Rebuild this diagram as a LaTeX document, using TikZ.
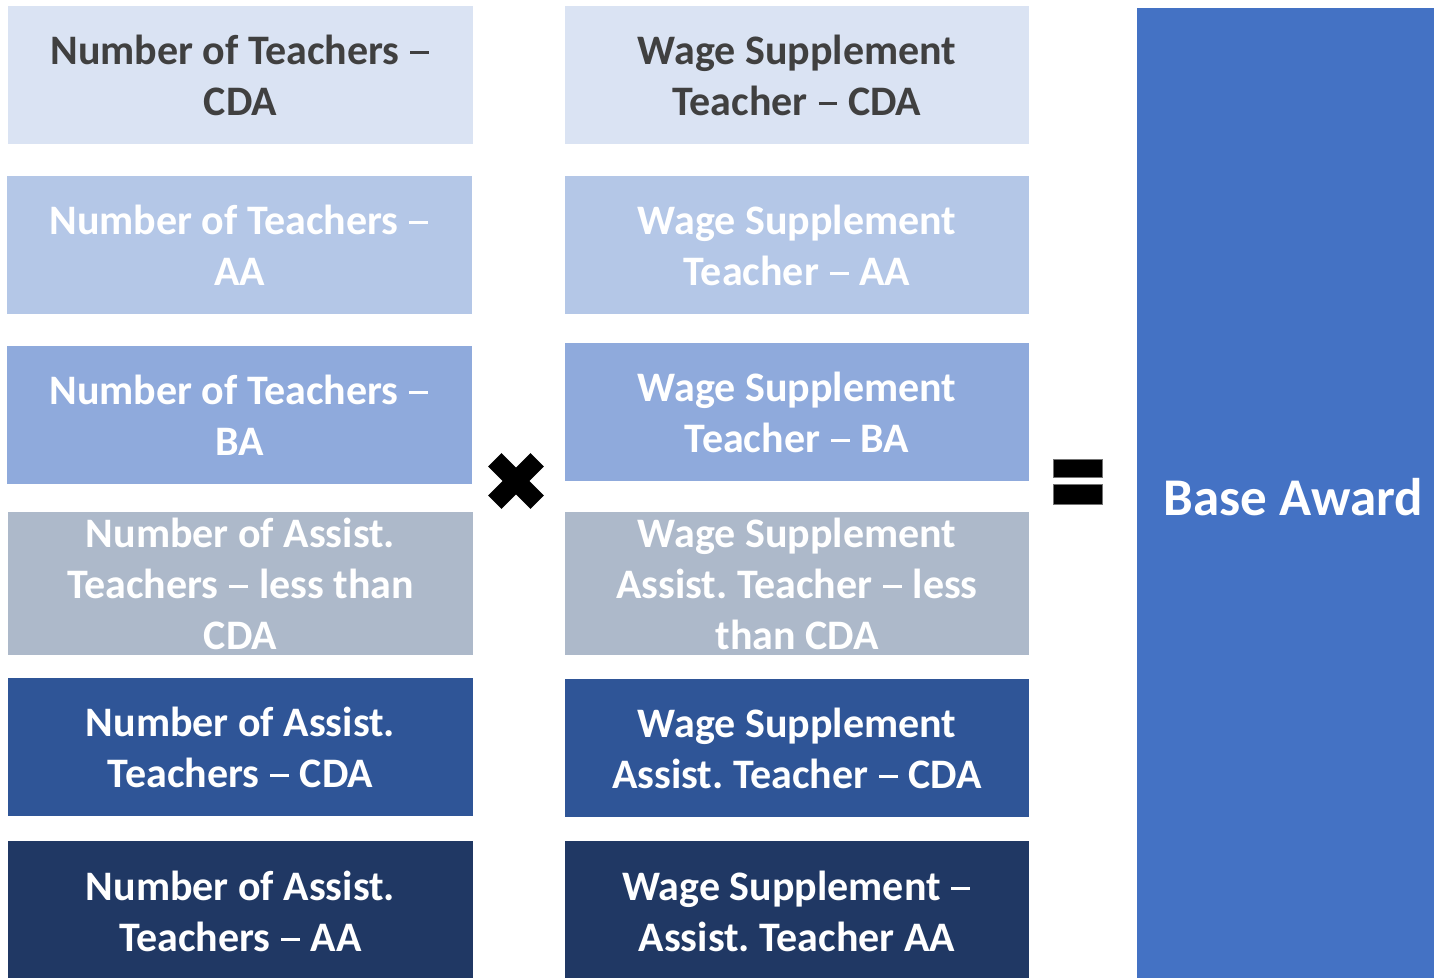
\documentclass[tikz,border=0pt]{standalone}
\usepackage{fontspec}
\setmainfont{Carlito}
\frenchspacing
\newcommand\ndash{\kern0.03em\rule[0.235em]{0.45em}{0.085em}\kern0.03em}
\definecolor{cA}{HTML}{DAE3F3}
\definecolor{cB}{HTML}{B4C7E7}
\definecolor{cC}{HTML}{8FAADC}
\definecolor{cD}{HTML}{ADB9CA}
\definecolor{cE}{HTML}{2F5597}
\definecolor{cF}{HTML}{203864}
\definecolor{cG}{HTML}{4472C4}
\definecolor{darktext}{HTML}{404040}
\begin{document}
\begin{tikzpicture}[x=1pt,y=-1pt,
  cell/.style={rectangle, inner sep=0pt, minimum width=465pt, minimum height=138pt,
    align=center, text=white,
    font=\fontsize{42}{51}\selectfont\bfseries\frenchspacing},
  bar/.style={fill=black, draw=black!55, line width=0.6pt}]
\useasboundingbox (0,0) rectangle (1434,977);
% left column
\node[cell, fill=cA, text=darktext] (l1) at (240.5,75) {Number of Teachers \ndash\\CDA};
\node[cell, fill=cB] (l2) at (239.5,245) {Number of Teachers \ndash\\AA};
\node[cell, fill=cC] (l3) at (239.5,415) {Number of Teachers \ndash\\BA};
\node[cell, fill=cD, minimum height=143pt] (l4) at (240.5,583.5) {Number of Assist.\\Teachers \ndash{} less than\\CDA};
\node[cell, fill=cE] (l5) at (240.5,747) {Number of Assist.\\Teachers \ndash{} CDA};
\node[cell, fill=cF, minimum height=140pt] (l6) at (240.5,911) {Number of Assist.\\Teachers \ndash{} AA};
% right column
\node[cell, fill=cA, text=darktext, minimum width=464pt] (r1) at (797,75) {Wage Supplement\\Teacher \ndash{} CDA};
\node[cell, fill=cB, minimum width=464pt] (r2) at (797,245) {Wage Supplement\\Teacher \ndash{} AA};
\node[cell, fill=cC, minimum width=464pt] (r3) at (797,412) {Wage Supplement\\Teacher \ndash{} BA};
\node[cell, fill=cD, minimum width=464pt, minimum height=143pt] (r4) at (797,583.5) {Wage Supplement\\Assist. Teacher \ndash{} less\\than CDA};
\node[cell, fill=cE, minimum width=464pt] (r5) at (797,748) {Wage Supplement\\Assist. Teacher \ndash{} CDA};
\node[cell, fill=cF, minimum width=464pt, minimum height=140pt] (r6) at (797,911) {Wage Supplement \ndash\\Assist. Teacher AA};
% result
\node[rectangle, inner sep=0pt, fill=cG, minimum width=313pt, minimum height=978pt,
  text=white, font=\fontsize{53}{60}\selectfont\bfseries] (res) at (1293.5,497) {Base Award};
% times sign
\fill[shift={(516,481)}, rotate=45] (-30,-9.5) rectangle (30,9.5);
\fill[shift={(516,481)}, rotate=-45] (-30,-9.5) rectangle (30,9.5);
% equals sign
\draw[bar] (1053,459) rectangle (1102,477);
\draw[bar] (1053,484) rectangle (1102,504);
\end{tikzpicture}
\end{document}
